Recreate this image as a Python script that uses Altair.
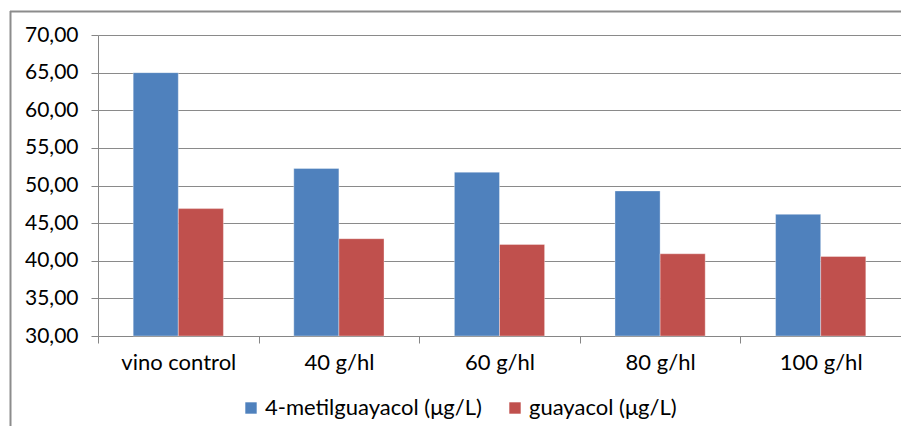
import altair as alt
import pandas as pd

categories = ["vino control", "40 g/hl", "60 g/hl", "80 g/hl", "100 g/hl"]
series_names = ["4-metilguayacol (μg/L)", "guayacol (μg/L)"]
metil = [65.00, 52.27, 51.77, 49.28, 46.17]
guaya = [46.93, 42.93, 42.17, 40.93, 40.57]
colors = ["#4F81BD", "#C0504D"]

rows = []
for c, a, b in zip(categories, metil, guaya):
    rows.append({"cat": c, "serie": series_names[0], "val": a})
    rows.append({"cat": c, "serie": series_names[1], "val": b})
df = pd.DataFrame(rows)

FONT = "Lato"
W, H = 803, 301

bars = alt.Chart(df).mark_bar(stroke="white", strokeWidth=0.6, strokeOpacity=0.6).encode(
    x=alt.X("cat:N", sort=categories, title=None,
            scale=alt.Scale(paddingInner=0, paddingOuter=0),
            axis=alt.Axis(labelAngle=0, tickBand="extent", domainColor="#868686",
                          tickColor="#868686", tickSize=7, labelPadding=9,
                          labelFont=FONT, labelFontSize=22, labelColor="#000000",
                          labelLimit=0, grid=False)),
    xOffset=alt.XOffset("serie:N", sort=series_names,
                        scale=alt.Scale(paddingInner=0, paddingOuter=0.78)),
    y=alt.Y("val:Q", title=None,
            scale=alt.Scale(domain=[30, 70], nice=False, zero=False),
            axis=alt.Axis(values=[30, 35, 40, 45, 50, 55, 60, 65, 70],
                          labelExpr="replace(format(datum.value, '.2f'), '.', ',')",
                          labelFont=FONT, labelFontSize=21, labelColor="#000000",
                          domainColor="#868686", tickColor="#868686", tickSize=7,
                          labelPadding=13, gridColor="#8a8a8a", gridWidth=1)),
    y2=alt.datum(30),
    color=alt.Color("serie:N", sort=series_names,
                    scale=alt.Scale(domain=series_names, range=colors),
                    legend=alt.Legend(title=None, orient="none", direction="horizontal",
                                      legendX=142, legendY=362,
                                      symbolType="square", symbolSize=130,
                                      symbolStrokeWidth=0, labelFont=FONT,
                                      labelFontSize=22, labelColor="#000000",
                                      labelLimit=0, columnPadding=22, labelOffset=3)),
)

border_top = alt.Chart(pd.DataFrame({"k": [0]})).mark_rule(color="#8c8c8c", strokeWidth=2).encode(
    x=alt.value(-88), x2=alt.value(W + 20), y=alt.value(-23.5)
)
border_left = alt.Chart(pd.DataFrame({"k": [0]})).mark_rule(color="#8c8c8c", strokeWidth=2).encode(
    x=alt.value(-87.5), y=alt.value(-24), y2=alt.value(H + 120)
)

chart = alt.layer(bars, border_top, border_left).properties(
    width=W, height=H,
    autosize=alt.AutoSizeParams(type="none"),
    padding={"left": 90, "top": 27, "right": 0, "bottom": 90},
).configure_view(stroke=None)

chart.save("out.html", embed_options={"renderer": "svg", "actions": False})
